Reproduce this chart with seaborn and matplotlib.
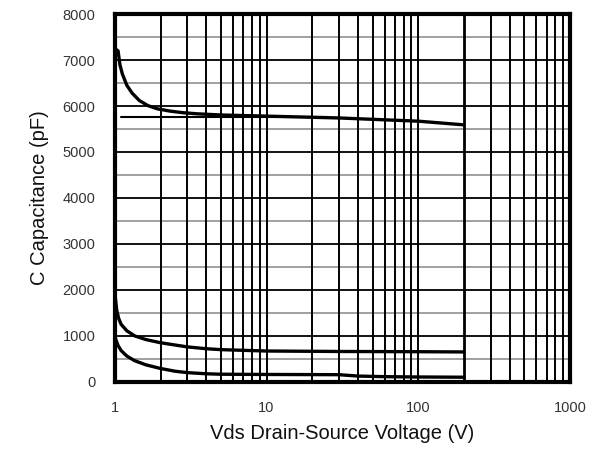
import numpy as np
import pandas as pd
import matplotlib
matplotlib.use("Agg")
import matplotlib.pyplot as plt
import seaborn as sns

# Data
ciss_v = [1.0, 1.02, 1.05, 1.08, 1.12, 1.2, 1.3, 1.45, 1.65, 1.9, 2.3, 2.8, 3.5, 5.0, 10, 30, 100, 200]
ciss_c = [7100, 7230, 7200, 6900, 6700, 6450, 6280, 6120, 6010, 5940, 5890, 5855, 5830, 5805, 5780, 5740, 5670, 5590]
coss_v = [1.0, 1.01, 1.03, 1.06, 1.1, 1.2, 1.35, 1.6, 2.0, 2.5, 3.0, 4.0, 5.0, 7.0, 10, 30, 100, 200]
coss_c = [1950, 1800, 1550, 1380, 1250, 1110, 1000, 920, 850, 800, 760, 720, 700, 685, 670, 660, 655, 650]
crss_v = [1.0, 1.02, 1.05, 1.1, 1.2, 1.35, 1.6, 2.0, 2.5, 3.0, 4.0, 5.0, 10, 30, 40, 60, 100, 200]
crss_c = [1000, 900, 790, 680, 560, 460, 370, 290, 230, 200, 175, 165, 160, 155, 125, 112, 105, 100]
flat_v = [1.1, 25]
flat_c = [5770, 5770]

x_ticks = [1, 10, 100, 1000]
x_ticklabels = ["1", "10", "100", "1000"]
y_ticks = [0, 1000, 2000, 3000, 4000, 5000, 6000, 7000, 8000]

df = pd.concat([
    pd.DataFrame({"V": ciss_v, "C": ciss_c, "s": "Ciss"}),
    pd.DataFrame({"V": coss_v, "C": coss_c, "s": "Coss"}),
    pd.DataFrame({"V": crss_v, "C": crss_c, "s": "Crss"}),
])

sns.set_theme(style="white")
plt.rcParams["font.family"] = ["Liberation Sans", "DejaVu Sans"]

fig = plt.figure(figsize=(5.95, 4.54), dpi=100)
ax = fig.add_axes([0.193, 0.159, 0.765, 0.81])

ax.set_xscale("log")
ax.set_xlim(1, 1000)
ax.set_ylim(0, 8000)

# grid
for yv in range(500, 8000, 500):
    if yv % 1000 == 0:
        ax.axhline(yv, color="black", lw=1.3, zorder=1)
    else:
        ax.axhline(yv, color="#999999", lw=1.3, zorder=1)
for dec in [1, 10, 100]:
    for m in range(1, 10):
        xv = dec * m
        if xv == 1:
            continue
        lw = 2.0 if xv == 200 else 1.4
        ax.axvline(xv, color="black", lw=lw, zorder=1)

sns.lineplot(data=df, x="V", y="C", hue="s", palette=["black", "black", "black"],
             legend=False, lw=2.4, ax=ax, sort=False, estimator=None, zorder=3)
ax.plot(flat_v, flat_c, color="black", lw=1.5, zorder=2)

ax.set_xticks(x_ticks)
ax.set_xticklabels(x_ticklabels)
ax.set_yticks(y_ticks)
ax.minorticks_off()
ax.tick_params(axis="both", length=0, labelsize=10.5, colors="#333333")
ax.tick_params(axis="x", pad=14)
ax.tick_params(axis="y", pad=14)

for sp in ax.spines.values():
    sp.set_visible(True)
    sp.set_color("black")
    sp.set_linewidth(3)

ax.set_xlabel("Vds Drain-Source Voltage (V)", fontsize=14.5, color="#111111", labelpad=6)
ax.set_ylabel("C Capacitance (pF)", fontsize=14.5, color="#111111", labelpad=10)

fig.savefig("out.png", dpi=100)
